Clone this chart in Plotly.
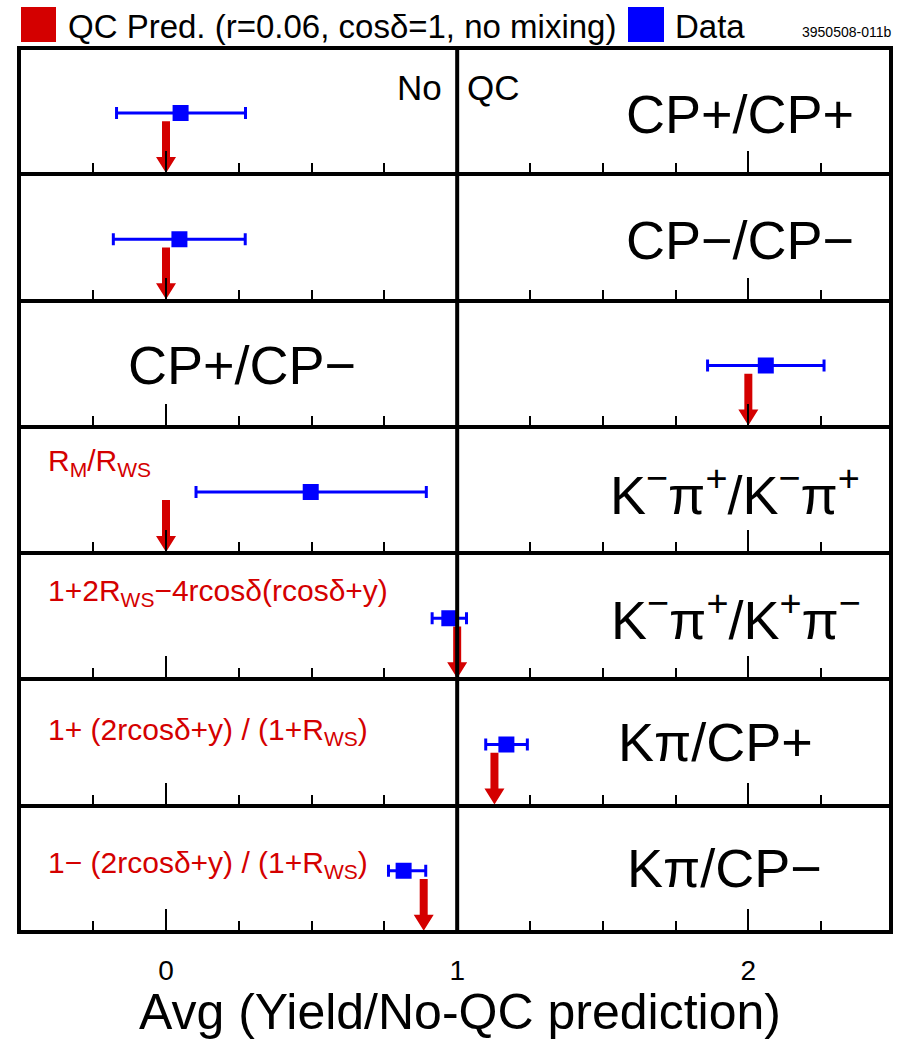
import plotly.graph_objects as go
from plotly.subplots import make_subplots

# ---------------- data ----------------
panel_labels = [
    "CP+/CP+",
    "CP−/CP−",
    "CP+/CP−",
    "K<sup>−</sup>π<sup>+</sup>/K<sup>−</sup>π<sup>+</sup>",
    "K<sup>−</sup>π<sup>+</sup>/K<sup>+</sup>π<sup>−</sup>",
    "Kπ/CP+",
    "Kπ/CP−",
]
data_vals = [0.050, 0.046, 2.060, 0.497, 0.973, 1.169, 0.816]
err_minus = [0.220, 0.227, 0.200, 0.394, 0.059, 0.071, 0.052]
err_plus = [0.223, 0.226, 0.200, 0.397, 0.059, 0.072, 0.076]
qc_pred = [0.0, 0.0, 2.0, 0.0, 1.0, 1.128, 0.885]
formula_labels = [
    None, None, None,
    "R<sub>M</sub>/R<sub>WS</sub>",
    "1+2R<sub>WS</sub>−4rcosδ(rcosδ+y)",
    "1+ (2rcosδ+y) / (1+R<sub>WS</sub>)",
    "1− (2rcosδ+y) / (1+R<sub>WS</sub>)",
]
legend_labels = ["QC Pred. (r=0.06, cosδ=1, no mixing)", "Data"]
x_title = "Avg (Yield/No-QC prediction)"
x_range = [-0.505, 2.49]

# ---------------- style ----------------
RED = "#d40000"
BLUE = "#0000ff"
FONT = "Liberation Sans, Arial, Helvetica, sans-serif"
W_FIG, H_FIG = 906, 1040
L, R, T, B = 19, 891, 48, 932
PW, PH = R - L, B - T
PX_PER_UNIT = PW / (x_range[1] - x_range[0])
PANEL_PX = PH / 7.0

POINT_Y = 0.485
ARROW_TOP = 0.42
ARROW_TIP = 0.01
SHAFT_HALF = 4.0 / PX_PER_UNIT
HEAD_HALF = 10.0 / PX_PER_UNIT
HEAD_H = 16.0 / PANEL_PX


def xp(p):
    return (p - L) / PW


def yp(p):
    return (B - p) / PH


n = len(panel_labels)
fig = make_subplots(rows=n, cols=1, shared_xaxes=True, vertical_spacing=0)

for i in range(n):
    row = i + 1
    p = qc_pred[i]
    hb = ARROW_TIP + HEAD_H
    ax = [p - SHAFT_HALF, p + SHAFT_HALF, p + SHAFT_HALF, p + HEAD_HALF, p,
          p - HEAD_HALF, p - SHAFT_HALF, p - SHAFT_HALF]
    ay = [ARROW_TOP, ARROW_TOP, hb, hb, ARROW_TIP, hb, hb, ARROW_TOP]
    fig.add_trace(go.Scatter(x=ax, y=ay, mode="lines", fill="toself",
                             fillcolor=RED, line=dict(width=0, color=RED),
                             showlegend=False, hoverinfo="skip"), row=row, col=1)
    fig.add_trace(go.Scatter(
        x=[data_vals[i]], y=[POINT_Y], mode="markers",
        marker=dict(symbol="square", size=16, color=BLUE, line=dict(width=0)),
        error_x=dict(type="data", symmetric=False, array=[err_plus[i]],
                     arrayminus=[err_minus[i]], color=BLUE, thickness=3, width=6),
        showlegend=False), row=row, col=1)

fig.update_xaxes(
    range=x_range, showline=True, linewidth=2, linecolor="black", mirror=True,
    ticks="inside", tick0=0, dtick=1, ticklen=23, tickwidth=2, tickcolor="black",
    minor=dict(ticks="inside", tick0=0, dtick=0.25, ticklen=11, tickwidth=2,
               tickcolor="black", showgrid=False),
    showgrid=False, zeroline=False, showticklabels=False, fixedrange=True,
    automargin=False)
fig.update_yaxes(range=[0, 1], showline=True, linewidth=2, linecolor="black",
                 mirror=True, ticks="", showticklabels=False, showgrid=False,
                 zeroline=False, fixedrange=True, automargin=False)
fig.update_layout(**{f"xaxis{n}": dict(showticklabels=True, ticklabelstandoff=12,
                                        tickfont=dict(family=FONT, size=28, color="black"))})

shapes = [
    dict(type="line", xref="x", yref="paper", x0=1, x1=1, y0=0, y1=1,
         line=dict(color="black", width=4)),
    dict(type="rect", xref="paper", yref="paper", x0=0, x1=1, y0=0, y1=1,
         line=dict(color="black", width=4)),
    dict(type="rect", xref="paper", yref="paper", x0=xp(21), x1=xp(56),
         y0=yp(42), y1=yp(7), fillcolor=RED, line=dict(width=0)),
    dict(type="rect", xref="paper", yref="paper", x0=xp(628), x1=xp(664),
         y0=yp(42), y1=yp(7), fillcolor=BLUE, line=dict(width=0)),
]

ann = []


def text(s, x, y, size, color="black", xanchor="center"):
    ann.append(dict(text=s, x=xp(x), y=yp(y), xref="paper", yref="paper",
                    xanchor=xanchor, yanchor="middle", showarrow=False,
                    font=dict(family=FONT, size=size, color=color)))


text(legend_labels[0], 66, 26, 33, xanchor="left")
text(legend_labels[1], 673, 26, 33, xanchor="left")
text("3950508-011b", 893, 32, 14, xanchor="right")
text("No", 444, 88, 35, xanchor="right")
text("QC", 465, 88, 35, xanchor="left")

label_pos = [(740, 114), (740, 240), (242, 365), (735, 491), (736, 616),
             (715, 742), (724, 868)]
for lab, (lx, ly) in zip(panel_labels, label_pos):
    text(lab, lx, ly, 54)

formula_pos = [None, None, None, (46, 462), (46, 592), (46, 731), (46, 864)]
for f, pos in zip(formula_labels, formula_pos):
    if f:
        text(f, pos[0], pos[1], 30, color=RED, xanchor="left")

text(x_title, 460, 1012, 50)

fig.update_layout(
    width=W_FIG, height=H_FIG,
    margin=dict(l=L, r=W_FIG - R, t=T, b=H_FIG - B, pad=0, autoexpand=False),
    paper_bgcolor="white", plot_bgcolor="white",
    shapes=shapes, annotations=ann, showlegend=False,
    font=dict(family=FONT, color="black"),
)

fig.write_html("out.html", config={"displayModeBar": False},
               post_script="document.body.style.margin='0';document.body.style.padding='0';")
